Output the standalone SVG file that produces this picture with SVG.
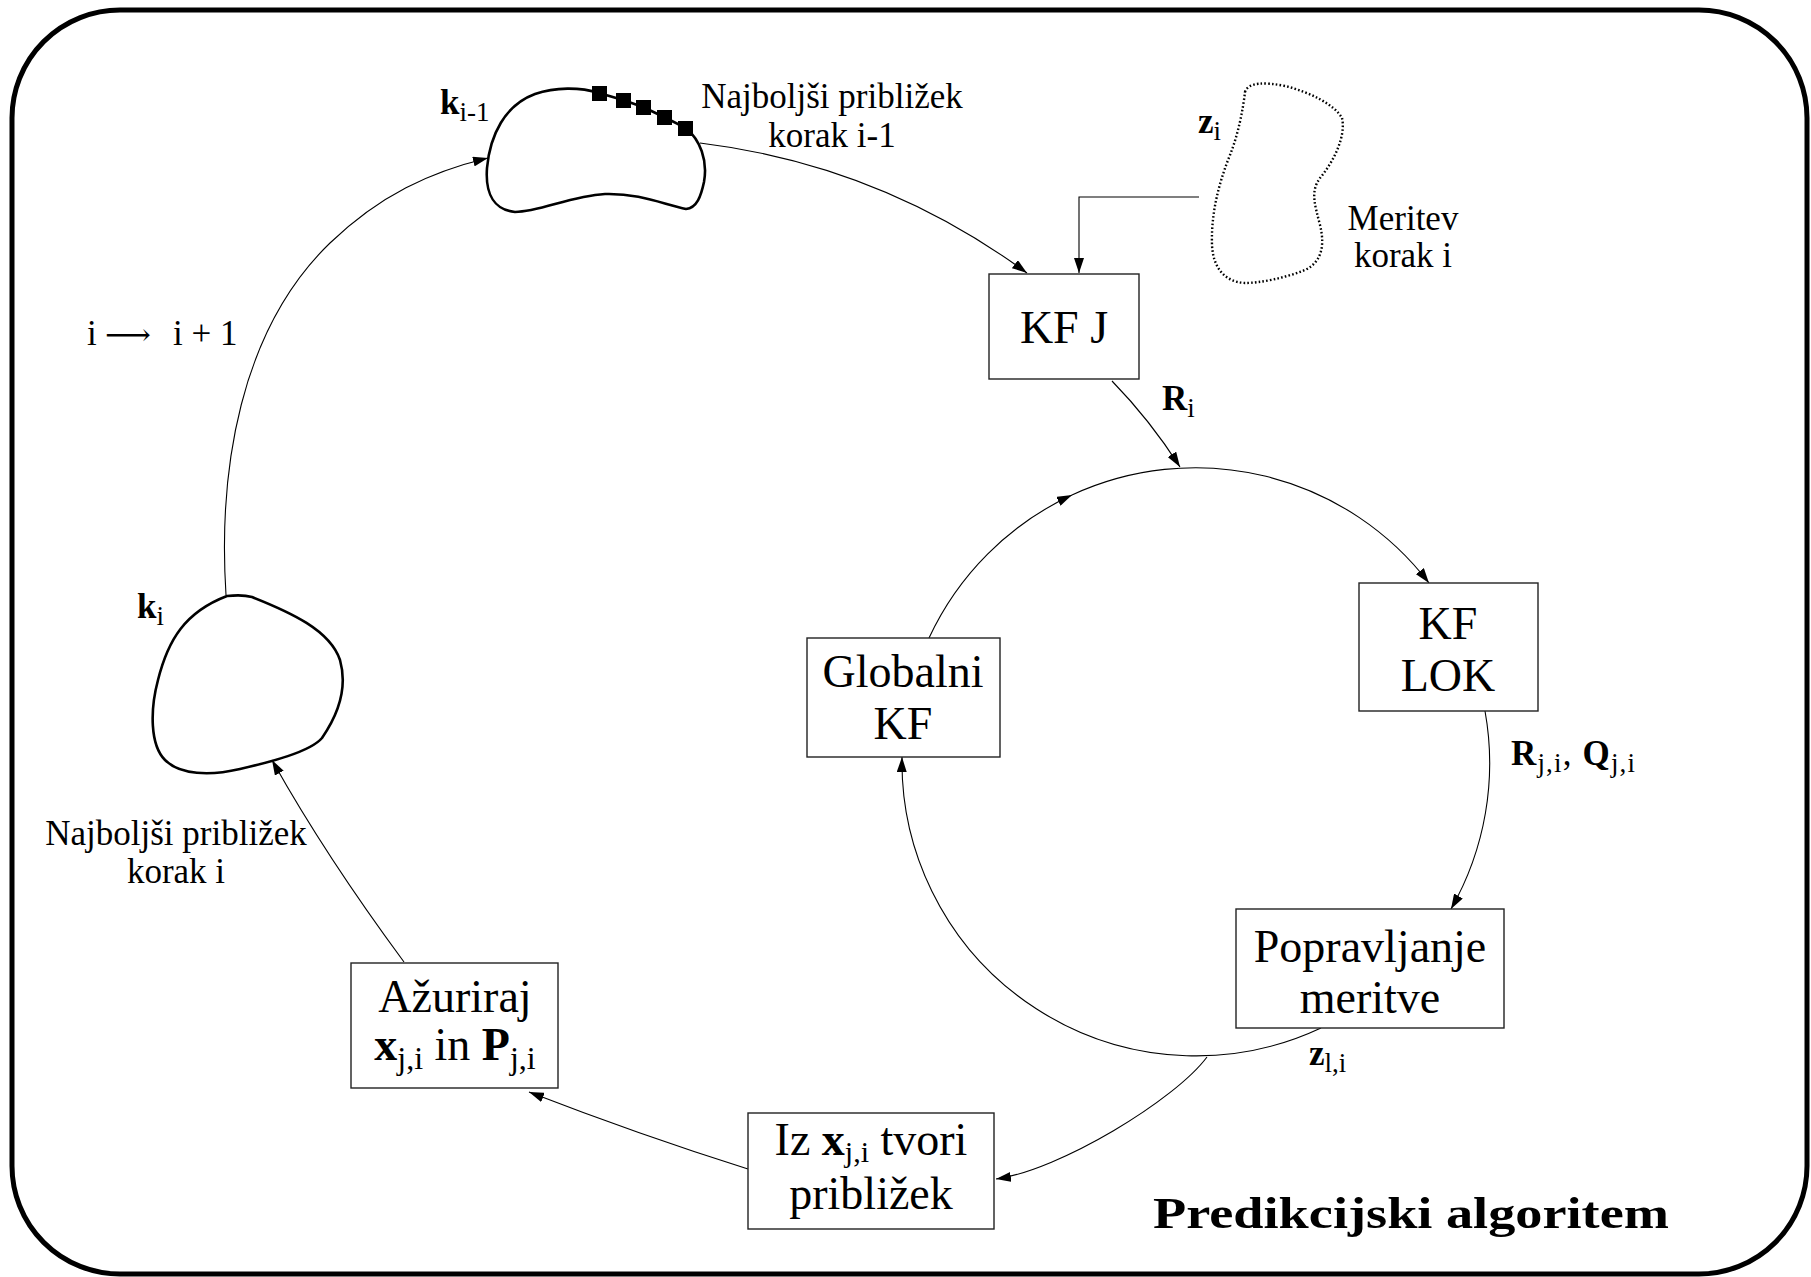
<svg xmlns="http://www.w3.org/2000/svg" width="1811" height="1277" viewBox="0 0 1811 1277">
<style>
.frame{fill:none;stroke:#000;stroke-width:5}
.box{fill:#fff;stroke:#222;stroke-width:1.4}
.blob{fill:none;stroke:#000;stroke-width:2.6}
.dot{fill:none;stroke:#000;stroke-width:2.4;stroke-dasharray:1.6 2.2}
.c{fill:none;stroke:#000;stroke-width:1.1;marker-end:url(#ah)}
.bt{font-family:"Liberation Serif","Times New Roman",serif;font-size:46px;text-anchor:middle;fill:#000}
.lt{font-family:"Liberation Serif","Times New Roman",serif;font-size:35px;fill:#000}
.ltm{font-family:"Liberation Serif","Times New Roman",serif;font-size:35px;fill:#000;text-anchor:middle}
.b{font-weight:bold}
.sq{fill:#000}
</style>
<defs>
<marker id="ah" markerUnits="userSpaceOnUse" markerWidth="16" markerHeight="10" refX="15" refY="5" orient="auto">
<path d="M0,0 L15,5 L0,10 Z" fill="#000"/>
</marker>
</defs>
<rect class="frame" x="12" y="10" width="1795" height="1264" rx="108" ry="108"/>

<g id="connectors">
<path class="c" d="M 226 595 C 218 470 240 330 330 243 C 380 195 430 172 488 158"/>
<path class="c" d="M 700 143 Q 880 165 1027 273"/>
<path class="c" d="M 1199 197 L 1079 197 L 1079 273"/>
<path class="c" d="M 1112 381 Q 1150 420 1180 467"/>
<path class="c" d="M 929 638 A 294 294 0 0 1 1072 495"/>
<path class="c" d="M 1072 495 A 294 294 0 0 1 1429 583"/>
<path class="c" d="M 1485 711 A 294 294 0 0 1 1451 909"/>
<path class="c" d="M 1321 1028 A 294 294 0 0 1 902 757"/>
<path class="c" d="M 1207 1057 C 1175 1100 1060 1170 996 1179"/>
<path class="c" d="M 748 1169 Q 640 1135 529 1092"/>
<path class="c" d="M 404 962 Q 325 855 272 760"/>
</g>

<g id="blob-k-prev">
<path class="blob" d="M 487 168 C 490 135 505 105 535 94 C 555 87 580 87 599 93 L 623 100 L 643 107 L 664 117 L 686 128 C 700 140 708 160 704 182 C 701 196 697 208 686 209 C 665 205 640 193 605 194 C 570 196 540 212 515 212 C 495 210 485 195 487 168 Z"/>
<rect class="sq" x="592" y="86" width="15" height="15"/>
<rect class="sq" x="616" y="93" width="15" height="15"/>
<rect class="sq" x="636" y="100" width="15" height="15"/>
<rect class="sq" x="657" y="110" width="15" height="15"/>
<rect class="sq" x="678" y="121" width="15" height="15"/>
<text class="lt" x="440" y="114"><tspan class="b">k</tspan><tspan font-size="27" dy="7">i-1</tspan></text>
<text class="ltm" x="832" y="108">Najboljši približek</text>
<text class="ltm" x="832" y="147">korak i-1</text>
</g>

<g id="blob-z">
<path class="dot" d="M 1245 92 C 1248 82 1265 82 1285 86 C 1310 92 1335 105 1342 118 C 1346 135 1335 160 1320 178 C 1310 192 1315 205 1320 225 C 1325 245 1322 262 1305 270 C 1285 278 1260 283 1245 283 C 1225 282 1213 268 1212 245 C 1211 215 1218 185 1230 155 C 1238 135 1243 110 1245 92 Z"/>
<text class="lt" x="1198" y="133"><tspan class="b">z</tspan><tspan font-size="27" dy="7">i</tspan></text>
<text class="ltm" x="1403" y="230">Meritev</text>
<text class="ltm" x="1403" y="267">korak i</text>
</g>

<g id="blob-k">
<path class="blob" d="M 227 596 C 236 595 245 595 252 597 C 290 612 330 630 340 660 C 347 685 340 712 322 738 C 310 752 270 762 240 769 C 210 776 180 775 165 760 C 150 745 150 710 158 680 C 168 640 185 612 227 596 Z"/>
<text class="lt" x="137" y="618"><tspan class="b">k</tspan><tspan font-size="27" dy="7">i</tspan></text>
<text class="ltm" x="176" y="845">Najboljši približek</text>
<text class="ltm" x="176" y="883">korak i</text>
</g>

<g id="iter-label">
<text class="lt" x="87" y="345">i</text>
<text x="105" y="345" font-family="DejaVu Serif,serif" font-size="30" textLength="46" lengthAdjust="spacingAndGlyphs">⟶</text>
<text class="lt" x="173" y="345">i + 1</text>
</g>

<g id="kfj">
<rect class="box" x="989" y="274" width="150" height="105"/>
<text class="bt" x="1064" y="343">KF J</text>
</g>
<text class="lt" x="1162" y="410"><tspan class="b">R</tspan><tspan font-size="27" dy="7">i</tspan></text>

<g id="kflok">
<rect class="box" x="1359" y="583" width="179" height="128"/>
<text class="bt" x="1448" y="639">KF</text>
<text class="bt" x="1448" y="691">LOK</text>
</g>
<text class="lt" x="1511" y="765" textLength="124" lengthAdjust="spacing"><tspan class="b">R</tspan><tspan font-size="27" dy="7">j,i</tspan><tspan dy="-7">, </tspan><tspan class="b">Q</tspan><tspan font-size="27" dy="7">j,i</tspan></text>

<g id="popravljanje">
<rect class="box" x="1236" y="909" width="268" height="119"/>
<text class="bt" x="1370" y="962">Popravljanje</text>
<text class="bt" x="1370" y="1013">meritve</text>
</g>
<text class="lt" x="1309" y="1065"><tspan class="b">z</tspan><tspan font-size="27" dy="7">l,i</tspan></text>

<g id="globalni">
<rect class="box" x="807" y="638" width="193" height="119"/>
<text class="bt" x="903" y="687">Globalni</text>
<text class="bt" x="903" y="739">KF</text>
</g>

<g id="iz">
<rect class="box" x="748" y="1113" width="246" height="116"/>
<text class="bt" x="871" y="1155">Iz <tspan class="b">x</tspan><tspan font-size="30" dy="7">j,i</tspan><tspan dy="-7"> tvori</tspan></text>
<text class="bt" x="871" y="1209">približek</text>
</g>

<g id="azuriraj">
<rect class="box" x="351" y="963" width="207" height="125"/>
<text class="bt" x="455" y="1012">Ažuriraj</text>
<text class="bt" x="455" y="1060"><tspan class="b">x</tspan><tspan font-size="32" dy="9">j,i</tspan><tspan dy="-9"> in </tspan><tspan class="b">P</tspan><tspan font-size="32" dy="9">j,i</tspan></text>
</g>

<text x="1153" y="1228" font-family="Liberation Serif,serif" font-weight="bold" font-size="45" textLength="516" lengthAdjust="spacingAndGlyphs">Predikcijski algoritem</text>
</svg>
